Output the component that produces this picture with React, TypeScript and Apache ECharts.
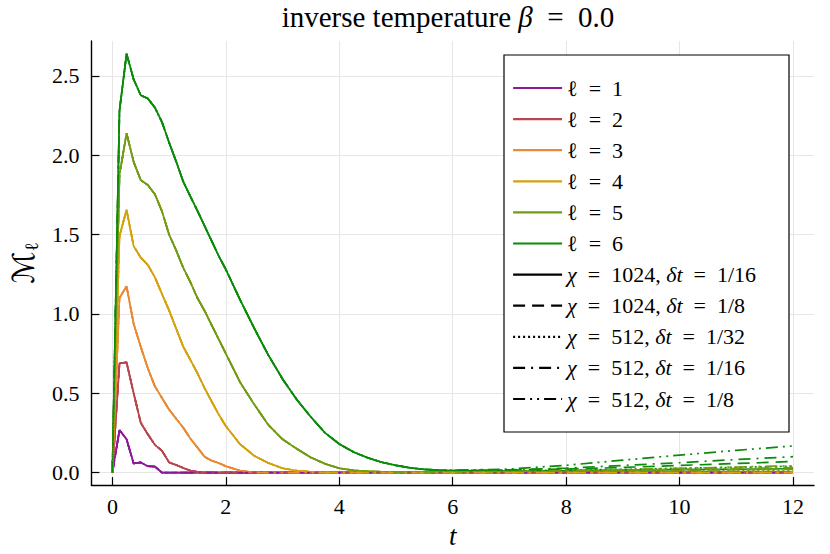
import React, { useEffect, useRef } from "react";
import * as echarts from "echarts";

const FONT = '"Liberation Serif", "DejaVu Serif", serif';

// time grid: 0..2 step 1/8, 2.25..6 step 1/4, 7..12 step 1
const T = [
  0, 0.125, 0.25, 0.375, 0.5, 0.625, 0.75, 0.875, 1, 1.125, 1.25, 1.375, 1.5, 1.625, 1.75, 1.875, 2,
  2.25, 2.5, 2.75, 3, 3.25, 3.5, 3.75, 4, 4.25, 4.5, 4.75, 5, 5.25, 5.5, 5.75, 6,
  7, 8, 9, 10, 11, 12,
];

// chi = 1024, dt = 1/16 (reference run)
const L1 = [
  0, 0.268, 0.21, 0.057, 0.064, 0.04, 0.038, 0, 0, 0, 0, 0, 0, 0, 0, 0, 0,
  0, 0, 0, 0, 0, 0, 0, 0, 0, 0, 0, 0, 0, 0, 0, 0,
  0, 0, 0, 0, 0, 0,
];
const L2 = [
  0, 0.688, 0.695, 0.5, 0.314, 0.241, 0.175, 0.137, 0.064, 0.048, 0.029, 0.012, 0.004, 0, 0, 0, 0,
  0, 0, 0, 0, 0, 0, 0, 0, 0, 0, 0, 0, 0, 0, 0, 0,
  0, 0, 0, 0, 0, 0,
];
const L3 = [
  0, 1.1, 1.174, 0.938, 0.793, 0.657, 0.543, 0.47, 0.397, 0.339, 0.283, 0.214, 0.158, 0.1, 0.075, 0.06, 0.04,
  0.012, 0, 0, 0, 0, 0, 0, 0, 0, 0, 0, 0, 0, 0, 0, 0,
  0, 0, 0, 0, 0, 0,
];
const L4 = [
  0, 1.49, 1.656, 1.427, 1.355, 1.309, 1.23, 1.125, 1.022, 0.907, 0.793, 0.71, 0.626, 0.532, 0.449, 0.366, 0.293,
  0.179, 0.106, 0.06, 0.027, 0.012, 0.004, 0, 0, 0, 0, 0, 0, 0, 0, 0, 0,
  0, 0, 0, 0, 0, 0,
];
const L5 = [
  0, 1.875, 2.139, 1.958, 1.843, 1.812, 1.754, 1.646, 1.5, 1.4, 1.29, 1.2, 1.1, 1.02, 0.93, 0.84, 0.75,
  0.57, 0.43, 0.3, 0.21, 0.15, 0.095, 0.055, 0.027, 0.014, 0.008, 0.005, 0.003, 0.003, 0.003, 0.003, 0.003,
  0.004, 0.004, 0.005, 0.005, 0.006, 0.006,
];
const L6 = [
  0, 2.28, 2.64, 2.478, 2.378, 2.358, 2.3, 2.208, 2.08, 1.96, 1.833, 1.74, 1.65, 1.555, 1.46, 1.365, 1.28,
  1.09, 0.91, 0.74, 0.59, 0.46, 0.35, 0.25, 0.18, 0.13, 0.093, 0.065, 0.045, 0.03, 0.02, 0.015, 0.012,
  0.01, 0.012, 0.015, 0.018, 0.021, 0.024,
];

// late-time values (t = 6, 7, ..., 12) where the other runs depart from the reference run
const LATE_T = [6, 7, 8, 9, 10, 11, 12];
const L5_LATE_1024_8 = [0.003, 0.005, 0.007, 0.01, 0.014, 0.018, 0.022];
const L6_LATE_1024_8 = [0.013, 0.015, 0.022, 0.032, 0.045, 0.057, 0.07];
const L5_LATE_512_32 = [0.003, 0.004, 0.005, 0.007, 0.009, 0.011, 0.013];
const L6_LATE_512_32 = [0.012, 0.012, 0.015, 0.02, 0.027, 0.033, 0.04];
const L5_LATE_512_16 = [0.003, 0.005, 0.009, 0.014, 0.02, 0.026, 0.032];
const L6_LATE_512_16 = [0.013, 0.017, 0.028, 0.045, 0.062, 0.082, 0.1];
const L5_LATE_512_8 = [0.004, 0.007, 0.012, 0.019, 0.027, 0.035, 0.043];
const L6_LATE_512_8 = [0.015, 0.022, 0.046, 0.078, 0.11, 0.14, 0.168];

const ELLS = ["1", "2", "3", "4", "5", "6"];
const CHI = ["1024", "1024", "512", "512", "512"];
const DT = ["1/16", "1/8", "1/32", "1/16", "1/8"];
const X_TICKS = [0, 2, 4, 6, 8, 10, 12];
const Y_TICKS = [0, 0.5, 1, 1.5, 2, 2.5];

const BASE = [L1, L2, L3, L4, L5, L6];
const LATE_BY_RUN: Array<Record<number, number[]> | null> = [
  null,
  { 4: L5_LATE_1024_8, 5: L6_LATE_1024_8 },
  { 4: L5_LATE_512_32, 5: L6_LATE_512_32 },
  { 4: L5_LATE_512_16, 5: L6_LATE_512_16 },
  { 4: L5_LATE_512_8, 5: L6_LATE_512_8 },
];

// styles
const COLORS = ["#8e1896", "#b8464f", "#ea8a34", "#d6a20c", "#739b14", "#0a8c0a"];
const DASHES: any[] = ["solid", [12, 7], [2, 3], [12, 6, 2, 6], [12, 5, 2, 5, 2, 5]];
const LW = 1.7;

function buildOption() {
  const lateIdx = T.indexOf(LATE_T[0]);
  const series: any[] = [];
  CHI.forEach((_, c) => {
    BASE.forEach((vals, k) => {
      const late = LATE_BY_RUN[c] ? LATE_BY_RUN[c]![k] : undefined;
      const data = T.map((t, i) => [t, late && i >= lateIdx ? late[i - lateIdx] : vals[i]]);
      series.push({
        type: "line",
        name: "l" + ELLS[k],
        data,
        symbol: "none",
        showSymbol: false,
        silent: true,
        lineStyle: { color: COLORS[k], width: LW, type: DASHES[c], cap: "butt" },
        itemStyle: { color: COLORS[k] },
        z: 2,
      });
    });
  });
  CHI.forEach((_, c) => {
    series.push({
      type: "line",
      name: "c" + c,
      data: [],
      symbol: "none",
      showSymbol: false,
      lineStyle: { color: "#000", width: LW + 0.3, type: DASHES[c], cap: "butt" },
      itemStyle: { color: "#000" },
    });
  });

  const labels: Record<string, string> = {};
  ELLS.forEach((e) => {
    labels["l" + e] = `{s|ℓ}{n|\u2002=\u2002${e}}`;
  });
  CHI.forEach((chi, c) => {
    labels["c" + c] = `{i|χ}{n|\u2002=\u2002${chi}, }{i|δt}{n|\u2002=\u2002${DT[c]}}`;
  });

  const legendFS = 22;
  const richBase = { fontFamily: FONT, fontSize: legendFS, lineHeight: 24, color: "#000", fontWeight: "normal" };

  return {
    animation: false,
    backgroundColor: "#fff",
    textStyle: { fontFamily: FONT, color: "#000" },
    title: {
      text: "{n|inverse temperature }{i|β}{n|\u2002=\u20020.0}",
      left: 448,
      top: 2,
      padding: 0,
      textAlign: "center",
      textStyle: {
        fontWeight: "normal",
        rich: {
          n: { fontFamily: FONT, fontSize: 29, lineHeight: 30, color: "#000", fontWeight: "normal" },
          i: { fontFamily: FONT, fontSize: 29, lineHeight: 30, fontStyle: "italic", color: "#000", fontWeight: "normal" },
        },
      },
    },
    grid: { left: 84, right: 16, top: 41, bottom: 64, containLabel: false },
    xAxis: {
      type: "value",
      min: -0.37,
      max: 12.37,
      name: "{i|t}",
      nameLocation: "middle",
      nameGap: 30,
      nameTextStyle: {
        rich: { i: { fontFamily: FONT, fontSize: 27, fontStyle: "italic", color: "#000" } },
      },
      axisLine: { show: true, onZero: false, lineStyle: { color: "#000", width: 1.4 } },
      axisTick: { show: true, inside: true, length: 8, customValues: X_TICKS, lineStyle: { color: "#000", width: 1.2 } },
      axisLabel: {
        customValues: X_TICKS,
        margin: 10,
        fontFamily: FONT,
        fontSize: 22,
        color: "#000",
        formatter: (v: number) => String(v),
      },
      splitLine: { show: true, lineStyle: { color: "#e6e6e6", width: 1 } },
    },
    yAxis: {
      type: "value",
      min: -0.079,
      max: 2.72,
      name: "{m|ℳ}{s|ℓ}",
      nameLocation: "middle",
      nameRotate: 90,
      nameGap: 40,
      nameTextStyle: {
        rich: {
          m: { fontFamily: '"DejaVu Serif", "DejaVu Sans", serif', fontStyle: "italic", fontSize: 30, lineHeight: 36, color: "#000" },
          s: { fontFamily: FONT, fontSize: 19, verticalAlign: "bottom", color: "#000" },
        },
      },
      axisLine: { show: true, onZero: false, lineStyle: { color: "#000", width: 1.4 } },
      axisTick: { show: true, inside: true, length: 8, customValues: Y_TICKS, lineStyle: { color: "#000", width: 1.2 } },
      axisLabel: {
        customValues: Y_TICKS,
        margin: 12,
        fontFamily: FONT,
        fontSize: 22,
        color: "#000",
        formatter: (v: number) => v.toFixed(1),
      },
      splitLine: { show: true, lineStyle: { color: "#e6e6e6", width: 1 } },
    },
    graphic: {
      elements: [
        {
          type: "rect",
          z: 50,
          silent: true,
          shape: { x: 504, y: 55, width: 285, height: 377 },
          style: { fill: "#fff", stroke: "#000", lineWidth: 1.2 },
        },
      ],
    },
    legend: {
      z: 100,
      orient: "vertical",
      left: 512,
      top: 77,
      padding: 0,
      itemWidth: 49,
      itemHeight: 14,
      itemGap: 9.1,
      selectedMode: false,
      itemStyle: { opacity: 0 },
      lineStyle: { width: 2.2 },
      data: [...ELLS.map((e) => "l" + e), ...CHI.map((_, c) => "c" + c)],
      formatter: (name: string) => labels[name] || name,
      textStyle: {
        fontFamily: FONT,
        fontSize: legendFS,
        color: "#000",
        rich: {
          n: richBase,
          s: richBase,
          i: { ...richBase, fontStyle: "italic" },
        },
      },
    },
    series,
  };
}

export default function App() {
  const ref = useRef<HTMLDivElement>(null);
  useEffect(() => {
    if (!ref.current) return;
    const chart = echarts.init(ref.current, null, { renderer: "svg" });
    chart.setOption(buildOption() as any);
    return () => chart.dispose();
  }, []);
  return (
    <div
      ref={ref}
      style={{ position: "fixed", left: 0, top: 0, width: 830, height: 554, background: "#fff" }}
    />
  );
}
